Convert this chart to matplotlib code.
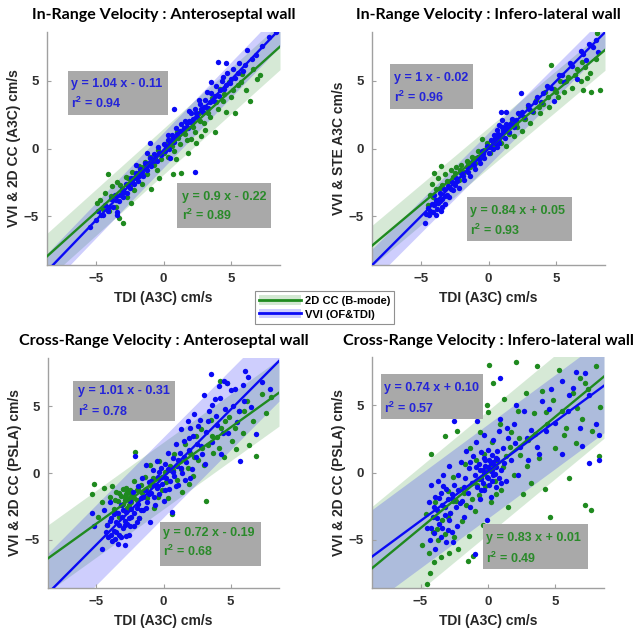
import numpy as np
import matplotlib.pyplot as plt
from matplotlib.patches import Rectangle, Patch
from matplotlib.lines import Line2D

TITLES = ["In-Range Velocity : Anteroseptal wall",
          "In-Range Velocity : Infero-lateral wall",
          "Cross-Range Velocity : Anteroseptal wall",
          "Cross-Range Velocity : Infero-lateral wall"]
YLABELS = ["VVI & 2D CC (A3C) cm/s",
           "VVI & STE A3C cm/s",
           "VVI & 2D CC (PSLA) cm/s",
           "VVI & 2D CC (PSLA) cm/s"]
XLABEL = "TDI (A3C) cm/s"
LEGEND_LABELS = ["2D CC (B-mode)", "VVI (OF&TDI)"]

# slope, intercept, r^2 of each fit
BLUE_FIT = [(1.04, -0.11, 0.94), (1.00, -0.02, 0.96), (1.01, -0.31, 0.78), (0.74, 0.10, 0.57)]
GREEN_FIT = [(0.90, -0.22, 0.89), (0.84, 0.05, 0.93), (0.72, -0.19, 0.68), (0.83, 0.01, 0.49)]
# half-width of the prediction bands (cm/s)
BLUE_BAND = [1.3, 1.2, 3.0, 3.5]
GREEN_BAND = [1.7, 1.5, 2.5, 4.6]

P1_BLUE = [(-5.4, -5.8), (-5.0, -5.3), (-4.8, -4.6), (-4.5, -4.9), (-4.3, -4.2), (-4.1, -4.6), (-3.9, -3.7),
           (-3.7, -4.3), (-3.6, -3.4), (-3.4, -4.7), (-3.3, -3.9), (-3.1, -3.0), (-3.0, -3.6), (-2.8, -2.6),
           (-2.7, -3.3), (-2.5, -2.9), (-2.4, -2.2), (-2.2, -2.6), (-2.0, -1.8), (-1.9, -2.4), (-1.7, -1.5),
           (-1.5, -2.0), (-1.4, -1.1), (-1.2, -1.6), (-1.0, -0.7), (-0.9, -1.3), (-0.7, -0.4), (-0.5, -0.9),
           (-0.4, 0.1), (-0.2, -0.5), (0.0, 0.3), (0.1, -0.2), (0.3, 0.6), (0.4, 0.0), (0.6, 1.0), (0.8, 0.5),
           (0.9, 1.5), (1.1, 0.9), (1.3, 1.8), (1.4, 1.2), (1.6, 2.0), (1.8, 1.5), (2.0, 2.6), (2.1, 1.9),
           (2.3, 2.9), (2.5, 2.3), (2.7, 3.3), (2.9, 2.7), (3.1, 3.6), (3.3, 3.0), (3.5, 4.1), (3.7, 3.5),
           (3.9, 4.6), (4.1, 3.9), (4.3, 5.0), (4.5, 4.4), (4.7, 5.6), (4.9, 4.8), (5.1, 5.9), (5.3, 5.2),
           (5.6, 6.3), (5.9, 5.7), (6.2, 7.3), (6.5, 6.6), (6.8, 6.9), (7.3, 7.6), (7.8, 8.2), (8.3, 8.6),
           (0.8, 2.9), (2.3, -1.7), (0.5, -0.7), (4.0, 6.4), (3.5, 4.9), (-3.4, -4.9), (-1.0, 0.4),
           (-4.6, -4.9), (-4.0, -4.3), (-3.5, -3.8), (-3.2, -3.4), (-2.9, -3.2), (-2.6, -2.6), (-2.3, -2.5),
           (-2.1, -2.1), (-1.8, -2.0), (-1.6, -1.7), (-1.3, -1.4), (-1.1, -1.1), (-0.8, -0.9), (-0.6, -0.7),
           (-0.3, -0.3), (0.2, 0.1), (0.5, 0.4), (0.7, 0.8), (1.0, 1.1), (1.2, 1.3), (1.5, 1.5), (1.7, 1.9),
           (1.9, 2.0), (2.2, 2.2), (2.4, 2.6), (2.8, 2.9), (3.0, 3.1), (3.4, 3.4), (3.8, 3.9), (4.2, 4.3),
           (4.6, 4.7), (5.0, 5.1), (5.5, 5.6), (6.0, 6.2), (0.3, 1.0), (1.9, 2.8), (2.6, 3.6), (3.2, 4.2),
           (4.4, 5.3), (4.6, 6.3), (-2.0, -1.2), (-1.2, -0.3)]
P1_GREEN = [(-4.9, -4.0), (-4.7, -3.8), (-4.5, -4.5), (-4.3, -3.3), (-4.1, -1.9), (-4.0, -4.6), (-3.8, -2.8),
            (-3.7, -3.6), (-3.5, -4.3), (-3.4, -2.5), (-3.3, -5.1), (-3.1, -3.2), (-3.0, -5.5), (-2.8, -2.1),
            (-2.7, -3.6), (-2.5, -2.7), (-2.3, -1.7), (-2.2, -3.1), (-2.0, -2.2), (-1.8, -1.3), (-1.6, -2.6),
            (-1.4, -1.0), (-1.2, -1.9), (-1.0, -0.6), (-0.9, -3.0), (-0.7, -1.2), (-0.5, -1.6), (-0.4, -0.1),
            (-0.2, -0.8), (0.1, 0.3), (0.3, -0.6), (0.5, 0.6), (0.7, -1.9), (0.8, -0.2), (1.0, 1.2), (1.2, 0.3),
            (1.3, -1.8), (1.5, 1.5), (1.7, 0.6), (1.8, -0.3), (2.0, 0.7), (2.1, 2.0), (2.3, 1.2), (2.6, 2.6),
            (2.8, 0.9), (3.0, 1.9), (3.2, 3.0), (3.4, 2.3), (3.6, 3.7), (3.8, 1.2), (4.0, 2.9), (4.2, 4.4),
            (4.4, 3.5), (4.6, 2.7), (4.8, 4.9), (5.0, 3.8), (5.3, 2.6), (5.5, 4.7), (5.8, 5.5), (6.1, 4.3),
            (6.4, 3.5), (6.6, 5.9), (6.9, 5.1), (7.1, 5.4),
            (-3.9, -3.5), (-3.2, -2.7), (-2.6, -2.2), (-1.9, -1.8), (-1.5, -1.4), (-0.8, -1.0), (0.0, -0.3),
            (0.6, 0.2), (1.1, 0.8), (1.6, 1.1), (2.2, 1.6), (2.7, 2.0), (3.3, 2.6), (3.9, 3.4), (4.5, 4.0),
            (5.1, 4.3), (5.7, 4.9), (2.4, 0.4), (3.1, 1.4), (0.9, -0.8), (-0.3, -2.2), (-2.4, -4.0)]

P2_BLUE = [(-4.7, -5.5), (-4.5, -4.4), (-4.4, -4.9), (-4.2, -4.1), (-4.1, -4.7), (-3.9, -3.8), (-3.8, -4.5),
           (-3.7, -4.0), (-3.6, -3.3), (-3.5, -4.6), (-3.4, -3.7), (-3.3, -3.0), (-3.2, -4.1), (-3.1, -3.4),
           (-3.0, -2.8), (-2.9, -3.6), (-2.7, -2.5), (-2.6, -3.1), (-2.4, -2.2), (-2.2, -2.9), (-2.0, -1.8),
           (-1.8, -2.3), (-1.6, -1.4), (-1.4, -2.0), (-1.2, -1.0), (-1.0, -1.5), (-0.8, -0.6), (-0.6, -1.1),
           (-0.5, -0.2), (-0.3, -0.7), (-0.1, 0.2), (0.0, -0.3), (0.2, 0.6), (0.3, 0.0), (0.4, 1.0), (0.5, 0.4),
           (0.6, 1.4), (0.7, 0.7), (0.8, 1.7), (0.9, 1.0), (1.0, 2.1), (1.1, 1.3), (1.2, 0.8), (1.3, 1.8),
           (1.5, 1.2), (1.7, 2.2), (1.9, 1.6), (2.2, 2.6), (2.4, 4.1), (2.6, 2.3), (2.9, 3.2), (3.2, 2.8),
           (3.6, 3.8), (3.9, 3.4), (4.3, 4.6), (4.8, 3.5), (5.2, 5.4), (5.6, 4.9), (6.0, 6.3), (6.5, 5.1),
           (6.8, 7.2), (7.2, 6.5), (7.4, 7.7), (7.9, 8.0), (8.1, 7.1), (-4.0, -3.4), (0.6, 0.1), (1.0, 1.6),
           (-4.6, -4.8), (-4.3, -4.6), (-4.0, -4.2), (-3.9, -4.9), (-3.6, -3.9), (-3.4, -4.3), (-3.2, -3.5),
           (-2.8, -3.0), (-2.5, -2.7), (-2.3, -2.4), (-1.9, -2.0), (-1.5, -1.7), (-1.1, -1.2), (-0.7, -0.8),
           (-0.4, -0.4), (0.1, 0.1), (0.3, 0.5), (0.5, 0.8), (0.7, 1.1), (0.8, 0.4), (1.0, 0.9), (1.2, 1.5),
           (1.4, 1.5), (1.6, 1.8), (2.0, 2.1), (2.5, 2.7), (3.0, 2.9), (3.4, 3.4), (4.0, 4.1), (4.6, 4.5),
           (5.4, 5.4), (6.2, 6.1), (7.0, 7.0), (7.7, 7.5), (1.3, 2.7), (0.9, 2.7)]
P2_GREEN = [(-4.5, -4.2), (-4.3, -3.4), (-4.2, -2.6), (-4.0, -1.8), (-3.9, -3.0), (-3.7, -2.2), (-3.5, -1.3),
            (-3.4, -2.7), (-3.2, -1.9), (-3.0, -2.5), (-2.8, -1.6), (-2.6, -2.1), (-2.4, -1.4), (-2.2, -2.3),
            (-2.0, -1.2), (-1.8, -1.7), (-1.6, -0.9), (-1.4, -1.4), (-1.2, -0.6), (-1.0, -1.1), (-0.8, -0.2),
            (-0.6, -0.7), (-0.5, 0.7), (-0.3, -0.1), (-0.1, 0.4), (0.1, -0.3), (0.3, 0.5), (0.5, 0.1), (0.7, 1.0),
            (0.9, 0.4), (1.1, 1.4), (1.3, 0.2), (1.5, 1.1), (1.7, 2.0), (1.9, 0.9), (2.1, 1.6), (2.3, 2.5),
            (2.5, 1.3), (2.7, 2.2), (2.9, 3.1), (3.1, 1.9), (3.3, 2.7), (3.5, 3.6), (3.8, 2.6), (4.0, 3.3),
            (4.2, 4.2), (4.5, 3.1), (4.6, 6.2), (4.8, 4.4), (5.1, 3.8), (5.3, 5.0), (5.6, 4.2), (5.9, 5.3),
            (6.2, 4.5), (6.5, 5.9), (6.8, 5.0), (7.0, 4.3), (7.3, 5.2), (7.6, 4.2), (7.9, 6.6), (8.0, 8.5),
            (8.2, 4.3),
            (-4.1, -3.6), (-3.6, -2.9), (-3.1, -2.4), (-2.5, -1.8), (-2.1, -1.6), (-1.5, -1.1), (-0.9, -0.7),
            (-0.4, -0.3), (0.2, 0.2), (0.8, 0.7), (1.4, 1.3), (2.0, 1.8), (2.6, 2.2), (3.2, 2.8), (3.7, 3.1),
            (4.4, 3.8), (5.0, 4.2), (5.7, 5.0), (6.4, 5.4), (7.1, 6.0), (7.5, 5.6), (6.9, 6.4)]

P3_BLUE = [(-5.3, -3.0), (-5.2, -4.0), (-4.6, -5.7), (-4.4, -2.8), (-4.2, -3.9), (-4.1, -4.8), (-4.0, -2.2),
           (-3.9, -3.4), (-3.8, -5.1), (-3.7, -4.3), (-3.6, -2.9), (-3.5, -3.7), (-3.4, -5.3), (-3.3, -4.6),
           (-3.2, -2.4), (-3.1, -3.3), (-3.0, -4.1), (-2.9, -5.4), (-2.8, -2.9), (-2.7, -3.8), (-2.6, -4.6),
           (-2.5, -2.1), (-2.4, -3.3), (-2.3, -1.4), (-2.2, -4.0), (-2.1, 1.3), (-2.0, -2.6), (-1.9, -1.0),
           (-1.8, -3.4), (-1.7, -1.9), (-1.6, -0.4), (-1.5, -2.8), (-1.4, -1.3), (-1.3, 0.6), (-1.2, -2.2),
           (-1.1, -0.7), (-1.0, -3.7), (-0.9, -1.5), (-0.8, 0.2), (-0.7, -0.9), (-0.6, -2.4), (-0.5, 0.9),
           (-0.4, -0.3), (-0.3, -1.6), (-0.2, 0.4), (-0.1, -0.8), (0.0, -2.1), (0.1, 0.7), (0.2, -0.4), (0.3, 1.5),
           (0.4, -1.2), (0.5, 0.2), (0.6, -2.9), (0.7, 1.1), (0.8, -0.2), (0.9, 2.2), (1.0, 0.5), (1.1, -0.9),
           (1.2, 1.5), (1.3, 3.3), (1.4, 0.0), (1.5, 2.4), (1.7, 0.8), (1.8, 3.9), (1.9, 1.7), (2.0, -0.4),
           (2.2, 2.8), (2.3, 4.4), (2.4, 1.2), (2.6, 3.5), (2.8, 2.0), (3.0, 5.8), (3.1, 0.7), (3.2, 3.1),
           (3.4, 4.6), (3.5, 7.4), (3.6, 2.3), (3.8, 5.5), (4.0, 3.6), (4.1, 6.5), (4.3, 1.4), (4.5, 6.9),
           (4.6, 4.8), (4.8, 3.0), (5.0, 6.2), (5.2, 5.0), (5.5, 3.8), (5.7, 0.9), (5.9, 6.6), (6.1, 7.6),
           (6.3, 7.2), (6.5, 4.9), (6.9, 2.9), (7.3, 6.8), (7.9, 6.3), (-3.6, -4.9), (-2.9, -3.6), (-0.4, -1.0),
           (-4.3, -4.4), (-4.0, -3.6), (-3.9, -4.6), (-3.7, -3.1), (-3.5, -4.4), (-3.4, -3.0), (-3.3, -3.9),
           (-3.2, -4.8), (-3.0, -2.8), (-2.9, -3.9), (-2.8, -4.7), (-2.6, -3.4), (-2.5, -4.0), (-2.4, -2.7),
           (-2.2, -3.0), (-2.0, -3.7), (-1.9, -2.3), (-1.7, -2.8), (-1.5, -1.8), (-1.3, -2.6), (-1.1, -1.6),
           (-0.9, -0.6), (-0.7, -1.8), (-0.5, -1.1), (-0.3, 0.1), (-0.1, -0.3), (0.1, -1.3), (0.3, 0.3),
           (0.5, -0.6), (0.7, 0.1), (0.9, -1.0), (1.1, 1.0), (1.3, 0.4), (1.5, 1.2), (1.6, -0.5), (1.9, 2.6),
           (2.1, 0.3), (2.5, 2.2), (2.7, 4.0), (2.9, 1.4), (3.3, 3.9), (3.6, 5.1), (3.9, 4.3), (4.2, 5.6),
           (4.4, 3.0), (4.7, 6.7), (5.3, 6.3), (5.6, 4.6), (6.0, 5.4), (2.0, 3.4)]
P3_GREEN = [(-5.3, -1.6), (-5.2, -0.8), (-4.9, -3.3), (-4.6, -2.2), (-4.4, -1.1), (-4.2, -3.9), (-4.0, -1.8),
            (-3.8, -1.0), (-3.7, -2.7), (-3.5, -1.4), (-3.4, -2.1), (-3.3, -3.3), (-3.2, -1.7), (-3.1, -2.4),
            (-3.0, -1.2), (-2.9, -2.0), (-2.8, -1.6), (-2.7, -2.6), (-2.6, -1.9), (-2.5, -1.3), (-2.4, -2.2),
            (-2.3, -1.7), (-2.2, -0.6), (-2.1, 1.6), (-2.0, -2.0), (-1.9, -1.2), (-1.8, -3.4), (-1.6, -1.5),
            (-1.4, -0.3), (-1.2, -1.9), (-1.0, 0.6), (-0.9, -1.0), (-0.7, -2.6), (-0.5, -0.4), (-0.3, 0.9),
            (-0.1, -1.3), (0.1, 0.1), (0.3, -1.9), (0.5, 0.5), (0.6, -3.1), (0.8, 1.4), (1.0, -0.5), (1.2, 0.9),
            (1.4, -1.4), (1.6, 2.2), (1.8, 0.4), (2.0, 1.5), (2.2, -0.2), (2.4, 2.8), (2.6, 1.0), (2.8, 3.3),
            (3.0, 0.6), (3.2, -2.1), (3.3, 2.1), (3.5, 4.0), (3.7, 1.5), (4.0, 2.7), (4.2, 6.9), (4.3, 3.4),
            (4.5, 1.2), (4.7, 6.7), (4.9, 4.2), (5.1, 2.4), (5.4, 1.8), (5.6, 4.6), (5.9, 3.0), (6.2, 5.4),
            (6.4, 2.1), (6.7, 3.9), (6.9, 1.3), (7.3, 5.9), (7.6, 4.5), (8.0, 5.7),
            (-3.6, -2.0), (-3.3, -1.5), (-3.0, -2.3), (-2.8, -1.1), (-2.6, -2.4), (-2.4, -1.6), (-2.2, -1.9),
            (-2.0, -1.3), (-2.9, -1.8), (-2.7, -1.4), (-1.7, -0.9), (-1.3, -1.2), (-0.8, -0.4), (-0.4, -1.8),
            (0.2, -0.7), (0.7, 0.2), (1.3, 0.3), (1.9, -0.8), (2.3, 1.2), (2.9, 1.9), (3.6, 2.8), (4.1, 1.9),
            (4.6, 3.9), (5.3, 3.4), (6.0, 4.6)]

P4_BLUE = [(-4.5, -4.1), (-4.4, -2.2), (-4.3, -5.0), (-4.2, -0.9), (-4.1, -3.3), (-4.0, -4.5), (-3.9, -5.7),
           (-3.9, -1.8), (-3.8, -2.8), (-3.7, -0.6), (-3.6, -3.8), (-3.5, -1.5), (-3.5, -4.8), (-3.4, -2.4),
           (-3.3, -0.2), (-3.2, -3.2), (-3.1, -1.2), (-3.0, -4.3), (-3.0, -2.0), (-2.9, 0.5), (-2.8, -3.0),
           (-2.7, -1.6), (-2.6, -5.2), (-2.5, 3.8), (-2.5, -0.9), (-2.4, -2.6), (-2.3, -4.0), (-2.2, -1.3),
           (-2.0, 0.8), (-1.9, -2.1), (-1.8, -3.3), (-1.7, -0.4), (-1.6, 1.6), (-1.5, -1.5), (-1.4, 0.3),
           (-1.3, -2.6), (-1.2, -0.8), (-1.1, 1.2), (-1.0, -6.1), (-1.0, -0.2), (-0.9, 2.3), (-0.8, 3.8),
           (-0.8, -1.1), (-0.7, 0.6), (-0.6, -2.0), (-0.5, 1.5), (-0.5, -0.5), (-0.4, 0.2), (-0.3, -1.3),
           (-0.3, 2.8), (-0.2, 0.9), (-0.1, -0.3), (-0.1, -3.5), (0.0, 0.4), (0.0, 1.7), (0.1, -0.9), (0.2, 0.7),
           (0.2, -1.8), (0.3, 1.3), (0.4, -0.2), (0.4, 2.4), (0.5, 0.5), (0.6, -1.1), (0.7, 1.0), (0.8, 3.1),
           (0.9, 4.0), (0.9, 7.0), (1.0, 0.2), (1.1, 1.8), (1.3, -0.6), (1.5, 2.6), (1.7, 0.9), (1.9, 3.6),
           (2.1, 5.0), (2.2, -0.2), (2.4, 1.9), (2.7, 4.6), (3.0, 0.9), (3.2, 3.2), (3.6, 1.9), (3.8, 1.4),
           (4.0, 5.3), (4.3, 3.1), (4.7, 6.2), (5.0, 3.7), (5.5, 6.8), (5.5, 1.4), (5.9, 4.6), (6.3, 6.3),
           (6.5, 7.5), (6.8, 3.3), (7.0, 2.0), (7.2, 7.4), (7.5, 5.8), (7.5, 0.7), (8.0, 3.6), (8.2, 2.8),
           (8.2, 0.9),
           (-0.6, 0.2), (-0.4, -0.8), (-0.2, 0.5), (0.0, -0.4), (0.1, 0.9), (0.2, 0.1), (0.3, -0.6), (0.4, 0.8),
           (0.5, -0.1), (0.6, 0.4), (0.7, 1.6), (0.8, -0.4), (-0.3, 1.1), (-0.5, -1.3), (-0.9, 0.4), (-0.7, -0.5),
           (0.3, 0.2), (0.6, 1.1), (1.2, 0.7), (1.0, -0.8), (-1.3, 0.8), (-1.8, -1.1), (-2.1, -2.3), (-2.6, -2.0),
           (-2.9, -3.5), (-3.2, -2.6), (-3.4, -4.1), (-3.6, -1.9), (-3.8, -3.4), (-4.0, -2.6), (-4.2, -4.1),
           (-3.3, -1.0), (-2.7, -4.4), (-3.1, -5.2), (-2.2, -0.2), (1.4, 3.3), (2.9, 2.6), (4.5, 4.7),
           (6.0, 5.8), (2.0, 2.2)]
P4_GREEN = [(-4.9, -5.4), (-4.6, -3.1), (-4.5, -8.3), (-4.3, -7.5), (-4.2, 1.4), (-4.1, -4.4), (-4.0, -6.7),
            (-3.9, -2.2), (-3.7, -5.0), (-3.5, -6.3), (-3.4, -3.5), (-3.2, 2.7), (-3.2, -4.6), (-3.0, -1.4),
            (-2.9, -6.0), (-2.8, -3.0), (-2.6, -0.3), (-2.5, -4.8), (-2.4, -2.1), (-2.3, 3.1), (-2.2, -5.7),
            (-2.0, -1.2), (-1.9, -3.6), (-1.7, 0.6), (-1.6, -2.4), (-1.4, -4.7), (-1.3, 1.8), (-1.2, -0.8),
            (-1.1, -6.2), (-1.0, -2.9), (-0.9, 0.9), (-0.7, -1.7), (-0.6, 3.0), (-0.5, -0.4), (-0.4, -3.9),
            (-0.3, 1.4), (-0.2, -1.0), (-0.1, 5.0), (0.0, 4.5), (0.0, 0.2), (0.1, 8.0), (0.2, -2.2), (0.3, 2.3),
            (0.4, 6.7), (0.5, -0.6), (0.6, 0.9), (0.7, -4.1), (0.9, 3.6), (1.0, -1.3), (1.2, 5.5), (1.3, 1.2),
            (1.5, -2.6), (1.7, 3.0), (1.9, -0.2), (2.1, 8.2), (2.2, 4.6), (2.4, 1.3), (2.6, -1.6), (2.8, 5.9),
            (3.0, 2.4), (3.2, -0.8), (3.4, 4.4), (3.6, 7.9), (3.8, 1.1), (4.0, 6.1), (4.2, -1.2), (4.4, 3.6),
            (4.6, -3.3), (4.8, 5.4), (5.0, 1.8), (5.3, 7.6), (5.5, 4.6), (5.8, 3.3), (6.0, -0.4), (6.3, 5.9),
            (6.5, 2.2), (6.8, 7.0), (7.0, 4.0), (7.2, 6.7), (7.2, -2.4), (7.6, -2.8), (7.7, 3.1), (8.0, 7.9),
            (8.2, 1.2), (8.3, 4.9),
            (-3.8, -4.2), (-3.0, -3.3), (-2.6, -2.1), (-1.8, -1.5), (-1.2, -2.0), (-0.8, -0.9), (-0.3, 0.0),
            (0.2, 0.6), (0.6, -1.6), (1.1, 0.4), (1.6, 1.9), (2.3, 2.6), (2.9, 0.5), (3.5, 2.9), (4.3, 4.5),
            (5.6, 2.8), (6.6, 4.8), (7.4, 6.2), (-1.5, -6.6), (-4.4, -6.0)]

BLUE_POINTS = [P1_BLUE, P2_BLUE, P3_BLUE, P4_BLUE]
GREEN_POINTS = [P1_GREEN, P2_GREEN, P3_GREEN, P4_GREEN]

BLUE = "#0a0af5"
GREEN = "#1f8a1f"
BLUE_TXT = "#2424d8"
GREEN_TXT = "#2a8a2a"
BOX_GRAY = "#a9a9a9"
AXIS_GRAY = "#a0a0a0"
LIM = 8.6

# axes rectangles in pixels: left, top, right, bottom (figure is 642 x 635)
AX_PX = [(47, 32, 280, 265), (372, 32, 605, 265), (48, 358, 279, 588), (372, 357, 604, 588)]
# annotation boxes in axes fraction: x0, y0, x1, y1, text x, line-1 y, line-2 y
BLUE_BOX = [(0.090, 0.644, 0.519, 0.833, 0.103, 0.777, 0.695),
            (0.077, 0.670, 0.433, 0.863, 0.094, 0.803, 0.721),
            (0.108, 0.726, 0.550, 0.900, 0.130, 0.857, 0.770),
            (0.039, 0.732, 0.478, 0.926, 0.052, 0.866, 0.779)]
GREEN_BOX = [(0.558, 0.159, 0.961, 0.352, 0.579, 0.292, 0.215),
             (0.408, 0.103, 0.858, 0.292, 0.421, 0.232, 0.150),
             (0.485, 0.096, 0.922, 0.287, 0.498, 0.239, 0.157),
             (0.478, 0.082, 0.931, 0.277, 0.491, 0.216, 0.130)]


def fit_text(slope, intercept):
    sign = "-" if intercept < 0 else "+"
    return "y = %g x %s %.2f" % (slope, sign, abs(intercept))


def annotate(ax, box, fit, color):
    x0, y0, x1, y1, tx, ty1, ty2 = box
    ax.add_patch(Rectangle((x0, y0), x1 - x0, y1 - y0, transform=ax.transAxes,
                           facecolor=BOX_GRAY, edgecolor="none", zorder=5))
    ax.text(tx, ty1, fit_text(fit[0], fit[1]), transform=ax.transAxes, color=color,
            fontsize=9, fontweight="bold", va="center", ha="left", zorder=6)
    ax.text(tx, ty2, "r$^2$ = %.2f" % fit[2], transform=ax.transAxes, color=color,
            fontsize=9, fontweight="bold", va="center", ha="left", zorder=6)


def main():
    plt.rcParams["font.family"] = "Liberation Sans"
    plt.rcParams["mathtext.fontset"] = "custom"
    plt.rcParams["mathtext.rm"] = "Liberation Sans:bold"
    plt.rcParams["mathtext.bf"] = "Liberation Sans:bold"
    plt.rcParams["mathtext.default"] = "bf"

    W, H = 642, 635
    fig = plt.figure(figsize=(W / 100, H / 100), dpi=100)
    xs = np.array([-LIM, LIM])

    for i in range(4):
        l, t, r, b = AX_PX[i]
        ax = fig.add_axes([l / W, 1 - b / H, (r - l) / W, (b - t) / H])

        ga, gb, _ = GREEN_FIT[i]
        ba, bb, _ = BLUE_FIT[i]
        ax.fill_between(xs, ga * xs + gb - GREEN_BAND[i], ga * xs + gb + GREEN_BAND[i],
                        color=GREEN, alpha=0.18, linewidth=0, zorder=1)
        ax.fill_between(xs, ba * xs + bb - BLUE_BAND[i], ba * xs + bb + BLUE_BAND[i],
                        color=BLUE, alpha=0.2, linewidth=0, zorder=1)

        g = np.array(GREEN_POINTS[i])
        bl = np.array(BLUE_POINTS[i])
        ax.scatter(g[:, 0], g[:, 1], s=15, color=GREEN, linewidths=0, zorder=2)
        ax.scatter(bl[:, 0], bl[:, 1], s=15, color=BLUE, linewidths=0, zorder=3)

        ax.plot(xs, ga * xs + gb, color=GREEN, lw=1.7, zorder=4)
        ax.plot(xs, ba * xs + bb, color=BLUE, lw=1.7, zorder=4)

        annotate(ax, BLUE_BOX[i], BLUE_FIT[i], BLUE_TXT)
        annotate(ax, GREEN_BOX[i], GREEN_FIT[i], GREEN_TXT)

        ax.set_xlim(-LIM, LIM)
        ax.set_ylim(-LIM, LIM)
        ax.set_xticks([-5, 0, 5])
        ax.set_yticks([-5, 0, 5])
        for side in ("top", "right"):
            ax.spines[side].set_visible(False)
        for side in ("left", "bottom"):
            ax.spines[side].set_color(AXIS_GRAY)
            ax.spines[side].set_linewidth(1.0)
        ax.tick_params(direction="in", length=3, color=AXIS_GRAY, labelsize=9.5,
                       labelcolor="#303030", pad=6)
        for lab in ax.get_xticklabels() + ax.get_yticklabels():
            lab.set_fontweight("bold")
        ax.set_xlabel(XLABEL, fontsize=10, fontweight="bold", color="#262626", labelpad=4)
        ax.set_ylabel(YLABELS[i], fontsize=10, fontweight="bold", color="#262626", labelpad=2)
        ax.set_title(TITLES[i], fontsize=11.5, fontweight="bold", family="Lato", pad=9)

    handles = [(Patch(facecolor=GREEN, alpha=0.2, edgecolor="none"), Line2D([], [], color=GREEN, lw=2)),
               (Patch(facecolor=BLUE, alpha=0.2, edgecolor="none"), Line2D([], [], color=BLUE, lw=2))]
    leg = fig.legend(handles, LEGEND_LABELS, loc="center", bbox_to_anchor=(324.5 / W, 1 - 307.5 / H),
                     prop={"weight": "bold", "size": 8}, handlelength=3.8,
                     handleheight=0.9, handletextpad=0.3, labelspacing=0.3, borderpad=0.4,
                     fancybox=False, edgecolor="#909090", framealpha=1)
    leg.get_frame().set_linewidth(0.8)

    fig.savefig("out.png", dpi=100)


if __name__ == "__main__":
    main()
